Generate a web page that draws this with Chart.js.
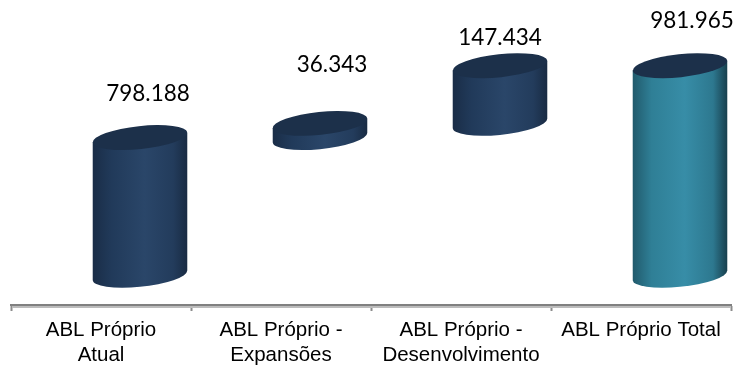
<!DOCTYPE html>
<html>
<head>
<meta charset="utf-8">
<style>
  html, body { margin: 0; padding: 0; background: #fff; }
  canvas { display: block; }
</style>
<script src="https://cdn.jsdelivr.net/npm/chart.js@4/dist/chart.umd.min.js"></script>
</head>
<body>
<canvas id="chart-abl" width="736" height="367"></canvas>
<script>
const categorias = [
  ['ABL Próprio', 'Atual'],
  ['ABL Próprio -', 'Expansões'],
  ['ABL Próprio -', 'Desenvolvimento'],
  ['ABL Próprio Total']
];
const valores = [798188, 36343, 147434, 981965];
const rotulos = ['798.188', '36.343', '147.434', '981.965'];
// where each cylinder starts; the two middle ones sit on top of the previous one
const piso = 446000;
const inicios = [piso, 798188, 834531, piso];
const fins = [798188, 834531, 981965, 981965];

const desvioBarra = 39;       // the cylinders sit to the right of the category centre
const desvioRotuloX = [8, 12, 0, 12];
const desvioRotuloY = [44, 59, 28, 45];

const coresCorpo = [
  ['#1a2d47', '#213a5a', '#2a4669', '#233c5c', '#192b43'],
  ['#1a2d47', '#213a5a', '#2a4669', '#233c5c', '#192b43'],
  ['#1a2d47', '#213a5a', '#2a4669', '#233c5c', '#192b43'],
  ['#215a6c', '#2f7f96', '#378da7', '#2d788f', '#183f4d']
];
const paradas = [0, 0.2, 0.55, 0.85, 1];
const corTampa = '#1c304a';

const inclinacao = -6 * Math.PI / 180;
const raioMenor = 11.5;

function desenhaCilindro(ctx, bar, i) {
  const cx = bar.x + desvioBarra;
  const a = bar.width / 2;
  const t0 = Math.atan2(-raioMenor * Math.sin(inclinacao), a * Math.cos(inclinacao));
  const dx = a * Math.cos(t0) * Math.cos(inclinacao) - raioMenor * Math.sin(t0) * Math.sin(inclinacao);
  const dy = a * Math.cos(t0) * Math.sin(inclinacao) + raioMenor * Math.sin(t0) * Math.cos(inclinacao);

  const grad = ctx.createLinearGradient(cx - dx, 0, cx + dx, 0);
  paradas.forEach((p, k) => grad.addColorStop(p, coresCorpo[i][k]));

  ctx.beginPath();
  ctx.moveTo(cx - dx, bar.y - dy);
  ctx.lineTo(cx + dx, bar.y + dy);
  ctx.lineTo(cx + dx, bar.base + dy);
  ctx.ellipse(cx, bar.base, a, raioMenor, inclinacao, t0, t0 + Math.PI);
  ctx.closePath();
  ctx.fillStyle = grad;
  ctx.fill();

  ctx.beginPath();
  ctx.ellipse(cx, bar.y, a, raioMenor, inclinacao, 0, Math.PI * 2);
  ctx.fillStyle = corTampa;
  ctx.fill();
}

const cilindros = {
  id: 'cilindros',
  // skip the flat bars, each one is painted as a tilted cylinder instead
  beforeDatasetDraw(chart, args) {
    const ctx = chart.ctx;
    ctx.save();
    args.meta.data.forEach((bar, i) => desenhaCilindro(ctx, bar, i));
    ctx.font = '22.5px Lato, "Open Sans", sans-serif';
    ctx.fillStyle = '#000';
    ctx.textAlign = 'center';
    ctx.textBaseline = 'middle';
    args.meta.data.forEach((bar, i) => {
      ctx.fillText(rotulos[i], bar.x + desvioBarra + desvioRotuloX[i], bar.y - desvioRotuloY[i]);
    });
    ctx.restore();
    return false;
  },
  // soft line under the axis
  afterDraw(chart) {
    const ctx = chart.ctx;
    const area = chart.chartArea;
    ctx.save();
    ctx.strokeStyle = '#bcbcbc';
    ctx.lineWidth = 2;
    ctx.beginPath();
    ctx.moveTo(area.left + 1, area.bottom + 2);
    ctx.lineTo(area.right, area.bottom + 2);
    ctx.stroke();
    ctx.restore();
  }
};

const ctAbl = document.getElementById('chart-abl');
const chartAbl = new Chart(ctAbl, {
  type: 'bar',
  data: {
    labels: categorias,
    datasets: [{
      data: valores.map((v, i) => [inicios[i], fins[i]]),
      backgroundColor: '#1c304a',
      borderWidth: 0,
      categoryPercentage: 1,
      barPercentage: 0.528
    }]
  },
  options: {
    responsive: false,
    animation: { duration: 0 },
    layout: { padding: { left: 11, right: 5, top: 0, bottom: 0 } },
    plugins: {
      legend: { display: false },
      tooltip: { enabled: false }
    },
    scales: {
      y: { display: false, min: 370000, max: 1150000 },
      x: {
        afterFit(scale) { scale.height = 62; },
        border: { color: '#808080', width: 2 },
        grid: {
          drawOnChartArea: false,
          drawTicks: true,
          tickLength: 6,
          tickWidth: 2,
          tickColor: '#8c8c8c'
        },
        ticks: {
          color: '#000',
          maxRotation: 0,
          autoSkip: false,
          padding: 7,
          font: { family: '"Liberation Sans", Arial, sans-serif', size: 20.5, lineHeight: 1.2 }
        }
      }
    }
  },
  plugins: [cilindros]
});
</script>
</body>
</html>
